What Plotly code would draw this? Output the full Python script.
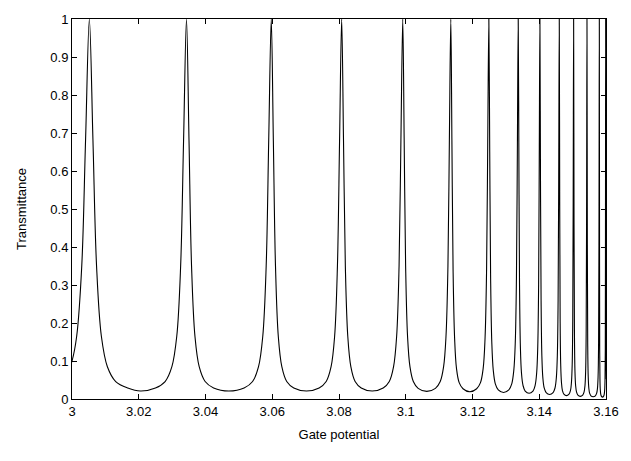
import plotly.graph_objects as go

# Values (gate potential, transmittance),
# one row per resonance: right flank of a peak, the valley, left flank and the next peak.
gate_potential = [
    2.9991, 3.0000, 3.0014, 3.00292, 3.00406, 3.0052,
    3.00628, 3.00736, 3.0088, 3.0106, 3.0131, 3.0167, 3.0205, 3.0250, 3.0279, 3.02993, 3.03139, 3.03255, 3.03343, 3.0343,
    3.03506, 3.03582, 3.03684, 3.03811, 3.03989, 3.04243, 3.0470, 3.05157, 3.05411, 3.05589, 3.05716, 3.05818, 3.05894, 3.0597,
    3.06033, 3.06097, 3.06181, 3.06287, 3.06434, 3.06645, 3.07025, 3.07405, 3.07616, 3.07763, 3.07869, 3.07953, 3.08017, 3.0808,
    3.08135, 3.0819, 3.08263, 3.08355, 3.08483, 3.08666, 3.08995, 3.09324, 3.09507, 3.09635, 3.09727, 3.0980, 3.09855, 3.0991,
    3.09953, 3.09996, 3.10054, 3.10126, 3.10227, 3.10371, 3.1063, 3.10889, 3.11033, 3.11134, 3.11206, 3.11264, 3.11307, 3.1135,
    3.11384, 3.11418, 3.11464, 3.11521, 3.11601, 3.11715, 3.1192, 3.12125, 3.12239, 3.12319, 3.12376, 3.12422, 3.12456, 3.1249,
    3.12516, 3.12543, 3.12578, 3.12622, 3.12684, 3.12772, 3.1293, 3.13088, 3.13176, 3.13238, 3.13282, 3.13317, 3.13344, 3.1337,
    3.1339, 3.13409, 3.13435, 3.13468, 3.13513, 3.13578, 3.13695, 3.13812, 3.13877, 3.13922, 3.13955, 3.13981, 3.1400, 3.1402,
    3.14037, 3.14055, 3.14078, 3.14107, 3.14148, 3.14206, 3.1431, 3.14414, 3.14472, 3.14513, 3.14542, 3.14565, 3.14583, 3.1460,
    3.14613, 3.14626, 3.14643, 3.14665, 3.14695, 3.14738, 3.14815, 3.14892, 3.14935, 3.14965, 3.14987, 3.15004, 3.15017, 3.1503,
    3.15042, 3.15054, 3.1507, 3.1509, 3.15118, 3.15158, 3.1523, 3.15302, 3.15342, 3.1537, 3.1539, 3.15406, 3.15418, 3.1543,
    3.15441, 3.15452, 3.15467, 3.15486, 3.15511, 3.15548, 3.15615, 3.15682, 3.15719, 3.15744, 3.15763, 3.15778, 3.15789, 3.1580,
    3.15806, 3.15811, 3.15819, 3.15829, 3.15842, 3.15861, 3.15895, 3.15929, 3.15948, 3.15961, 3.15971, 3.15979, 3.15984, 3.1599,
    3.15996, 3.16001, 3.16009,
]

transmittance = [
    0.08, 0.10, 0.165, 0.35, 0.68, 1.0,
    0.68, 0.35, 0.165, 0.085, 0.046, 0.029, 0.021, 0.029, 0.046, 0.085, 0.165, 0.35, 0.68, 1.0,
    0.68, 0.35, 0.165, 0.085, 0.046, 0.029, 0.021, 0.029, 0.046, 0.085, 0.165, 0.35, 0.68, 1.0,
    0.68, 0.35, 0.165, 0.085, 0.046, 0.029, 0.021, 0.029, 0.046, 0.085, 0.165, 0.35, 0.68, 1.0,
    0.68, 0.35, 0.165, 0.085, 0.046, 0.029, 0.021, 0.029, 0.046, 0.085, 0.165, 0.35, 0.68, 1.0,
    0.68, 0.35, 0.165, 0.085, 0.046, 0.028, 0.020, 0.028, 0.046, 0.085, 0.165, 0.35, 0.68, 1.0,
    0.67, 0.34, 0.16, 0.08, 0.043, 0.027, 0.019, 0.027, 0.043, 0.08, 0.16, 0.34, 0.67, 1.0,
    0.65, 0.32, 0.15, 0.076, 0.04, 0.024, 0.017, 0.024, 0.04, 0.076, 0.15, 0.32, 0.65, 1.0,
    0.63, 0.30, 0.137, 0.068, 0.036, 0.021, 0.015, 0.021, 0.036, 0.068, 0.137, 0.30, 0.63, 1.0,
    0.58, 0.26, 0.115, 0.057, 0.029, 0.017, 0.012, 0.017, 0.029, 0.057, 0.115, 0.26, 0.58, 1.0,
    0.52, 0.21, 0.09, 0.044, 0.022, 0.013, 0.009, 0.013, 0.022, 0.044, 0.09, 0.21, 0.52, 1.0,
    0.46, 0.18, 0.073, 0.035, 0.018, 0.010, 0.007, 0.010, 0.018, 0.035, 0.073, 0.18, 0.46, 1.0,
    0.405, 0.146, 0.059, 0.028, 0.0146, 0.0084, 0.006, 0.0084, 0.0146, 0.028, 0.059, 0.146, 0.405, 1.0,
    0.38, 0.13, 0.052, 0.025, 0.013, 0.0075, 0.005, 0.0075, 0.013, 0.025, 0.052, 0.13, 0.38, 1.0,
    0.38, 0.13, 0.052,
]

x_tick_values = [3.0, 3.02, 3.04, 3.06, 3.08, 3.1, 3.12, 3.14, 3.16]
x_tick_labels = ["3", "3.02", "3.04", "3.06", "3.08", "3.1", "3.12", "3.14", "3.16"]
y_tick_values = [0, 0.1, 0.2, 0.3, 0.4, 0.5, 0.6, 0.7, 0.8, 0.9, 1.0]
y_tick_labels = ["0", "0.1", "0.2", "0.3", "0.4", "0.5", "0.6", "0.7", "0.8", "0.9", "1"]

assert len(gate_potential) == len(transmittance)

FONT = "Liberation Sans, Arial, Helvetica, sans-serif"

fig = go.Figure()
fig.add_trace(go.Scatter(
    x=gate_potential,
    y=transmittance,
    mode="lines",
    line=dict(color="black", width=1.1, shape="spline", smoothing=1.0),
    showlegend=False,
    hoverinfo="skip",
))

axis_common = dict(
    showline=True, linecolor="black", linewidth=1, mirror="ticks",
    ticks="inside", ticklen=5, tickwidth=1, tickcolor="black",
    showgrid=False, zeroline=False,
    tickfont=dict(family=FONT, size=13, color="black"),
)

fig.update_xaxes(
    range=[3.0, 3.16], tickmode="array", tickvals=x_tick_values, ticktext=x_tick_labels,
    title=dict(text="Gate potential", font=dict(family=FONT, size=13, color="black"), standoff=12),
    **axis_common,
)
fig.update_yaxes(
    range=[0, 1], tickmode="array", tickvals=y_tick_values, ticktext=y_tick_labels,
    title=dict(text="Transmittance", font=dict(family=FONT, size=13, color="black"), standoff=20),
    **axis_common,
)

fig.update_layout(
    width=631, height=461,
    margin=dict(l=72, r=18, t=15, b=62),
    paper_bgcolor="white", plot_bgcolor="white",
    font=dict(family=FONT, size=13, color="black"),
)

fig.write_html("out.html")
